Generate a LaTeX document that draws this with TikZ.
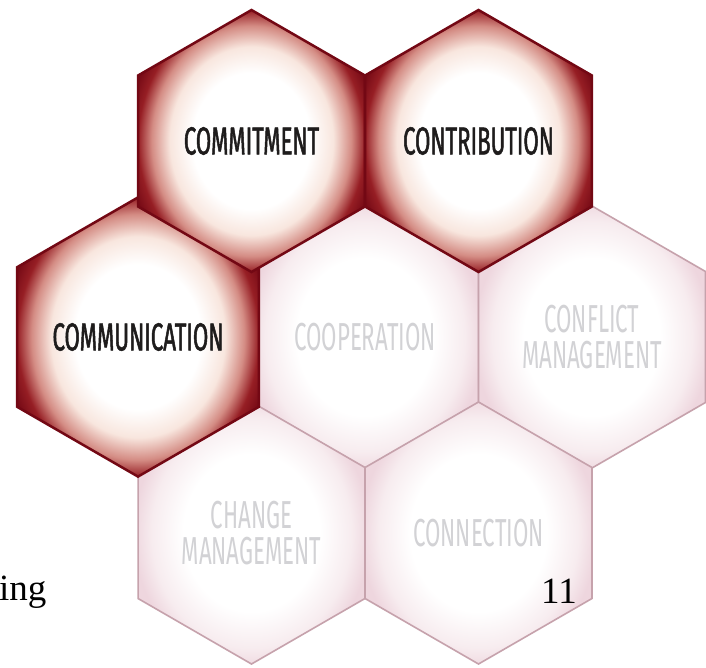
\documentclass[tikz,border=0pt]{standalone}
\usepackage{fontspec}
\setmainfont{Liberation Serif}
\newfontfamily\hexfont[FakeStretch=0.57]{Fira Sans}
\newfontfamily\hexboldfont[FakeStretch=0.57,FakeBold=1.3]{Fira Sans}
\usetikzlibrary{shapes.geometric}
\definecolor{hexred}{RGB}{115,8,20}
\definecolor{hexmid}{RGB}{150,30,36}
\definecolor{hexrose}{RGB}{212,140,132}
\definecolor{hexcream}{RGB}{248,230,222}
\definecolor{paleedge}{RGB}{198,162,172}
\definecolor{palepink}{RGB}{238,214,222}
\definecolor{palemid}{RGB}{247,236,239}
\definecolor{paletext}{RGB}{210,210,213}
\definecolor{darktext}{RGB}{30,28,28}
\pgfdeclareradialshading{darkhex}{\pgfpoint{0bp}{0bp}}{color(0bp)=(white); color(13bp)=(white); color(18bp)=(hexcream); color(22bp)=(hexrose); color(25bp)=(hexmid); color(28bp)=(hexred); color(50bp)=(hexred)}
\pgfdeclareradialshading{palehex}{\pgfpoint{0bp}{0bp}}{color(0bp)=(white); color(15bp)=(white); color(22bp)=(palemid); color(26bp)=(palepink); color(50bp)=(palepink)}
\begin{document}
\begin{tikzpicture}[x=1pt,y=-1pt,
	hexa/.style={regular polygon,regular polygon sides=6,shape border rotate=30,
		minimum size=262pt,inner sep=0pt,align=center},
	darkhexa/.style={hexa,shading=darkhex,draw=hexred,line width=2.5pt,text=darktext,
		font=\hexboldfont\fontsize{39}{36}\selectfont},
	palehexa/.style={hexa,shading=palehex,draw=paleedge,line width=1.6pt,text=paletext,
		font=\hexfont\fontsize{39}{36}\selectfont}]
	\fill [white] (0,0) rectangle (706,667);
	\useasboundingbox (0,0) rectangle (706,667);
	% pale cells first, dark cells on top
	\node [palehexa] (coop) at (365,337) {COOPERATION};
	\node [palehexa] (conflict) at (592,337) {CONFLICT\\MANAGEMENT};
	\node [palehexa] (change) at (251.5,533) {CHANGE\\MANAGEMENT};
	\node [palehexa] (connect) at (478.5,533) {CONNECTION};
	\node [darkhexa] (commun) at (138,337) {COMMUNICATION};
	\node [darkhexa] (commit) at (251.5,141) {COMMITMENT};
	\node [darkhexa] (contrib) at (478.5,141) {CONTRIBUTION};
	% slide text
	\node [anchor=base west,inner sep=0pt,font=\fontsize{37}{40}\selectfont] (ing) at (-1,600) {ing};
	\node [anchor=base west,inner sep=0pt,font=\fontsize{37}{40}\selectfont] (page) at (541,603) {11};
\end{tikzpicture}
\end{document}
